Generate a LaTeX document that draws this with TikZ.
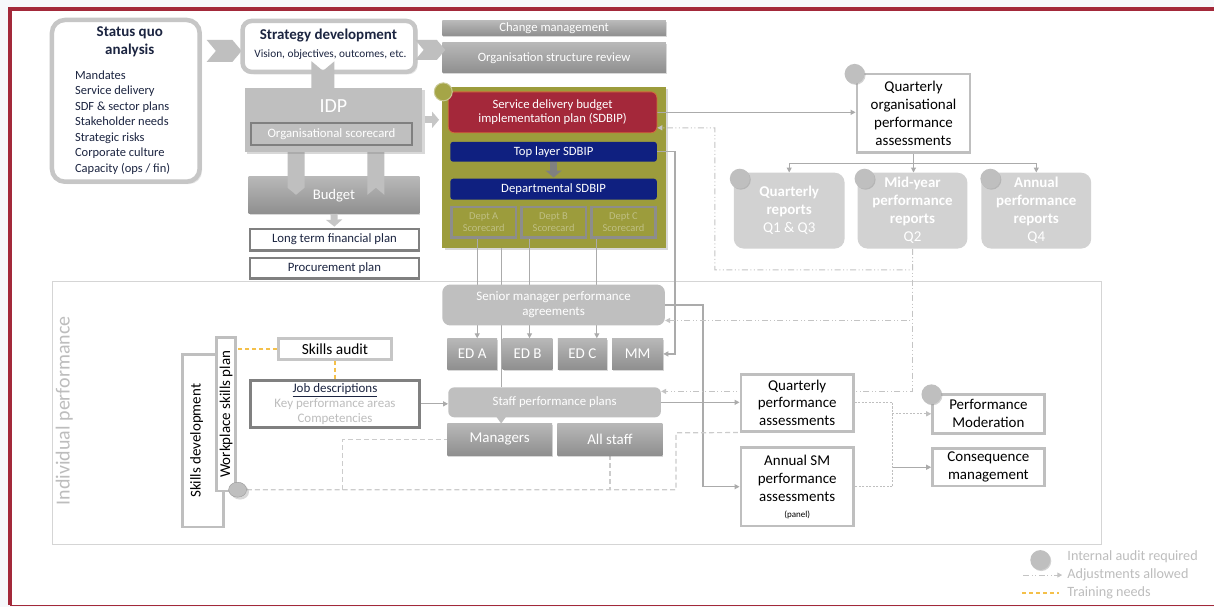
\documentclass[tikz,border=0pt]{standalone}
\usepackage{fontspec}
\setmainfont{Carlito}
\usepackage{tikz}
\usetikzlibrary{arrows.meta, positioning, shapes.geometric, shapes.symbols, calc, shadows}

\definecolor{framered}{HTML}{A3293A}
\definecolor{pagebg}{HTML}{F6F8FB}
\definecolor{olivebg}{HTML}{9C9C3C}
\definecolor{olivedot}{HTML}{A5A547}
\definecolor{planred}{HTML}{A4283A}
\definecolor{planedge}{HTML}{D06A3A}
\definecolor{navyblue}{HTML}{0F2080}
\definecolor{navytext}{HTML}{1C2541}
\definecolor{depttext}{HTML}{BFBF84}
\definecolor{lightgrey}{HTML}{BFBFBF}
\definecolor{softgrey}{HTML}{C6C6C6}
\definecolor{darkgrey}{HTML}{808080}
\definecolor{linegrey}{HTML}{ABABAB}
\definecolor{adjgrey}{HTML}{C4C4C4}
\definecolor{sklgrey}{HTML}{CCCCCC}
\definecolor{panelgrey}{HTML}{D5D5D5}
\definecolor{paletext}{HTML}{BDBDBD}
\definecolor{reportgrey}{HTML}{D2D2D2}
\definecolor{shadetop}{HTML}{B8B8B8}
\definecolor{shadebot}{HTML}{8F8F8F}
\definecolor{dotedge}{HTML}{999999}
\definecolor{trainyellow}{HTML}{F4C04A}

\pgfdeclarelayer{back}
\pgfsetlayers{back,main}

\begin{document}
\begin{tikzpicture}[x=1pt, y=-1pt,
    every node/.style={inner sep=0pt, align=center},
    >={Triangle[length=5pt,width=5pt]},
    wh/.style 2 args={minimum width=#1, minimum height=#2},
    fs/.style 2 args={font=\fontsize{#1}{#2}\selectfont},
    roundwhite/.style={fill=white, draw=softgrey, line width=4.5pt, rounded corners=13pt, drop shadow={opacity=0.2}},
    greyblock/.style={fill=lightgrey, text=white},
    shadeblock/.style={top color=shadetop, bottom color=shadebot, text=white, drop shadow={opacity=0.3, shadow xshift=1pt, shadow yshift=-1.5pt}},
    whitebox/.style={fill=white, draw=lightgrey, line width=2.5pt},
    darkbox/.style={fill=white, draw=darkgrey, line width=2.5pt},
    deptcard/.style={fill=olivebg, draw=darkgrey!90, line width=2.5pt, wh={64.5}{30.5}, fs={10.5}{12.5}, text=depttext},
    reportbox/.style={fill=reportgrey, rounded corners=10pt, text=white, font=\fontsize{15}{18}\selectfont\bfseries},
    auditdot/.style={circle, fill=lightgrey, minimum size=20, drop shadow={opacity=0.35, shadow xshift=1pt, shadow yshift=-1pt}},
    chev/.style={shape=signal, fill=lightgrey, signal pointer angle=100},
    blockarrow/.style={draw=softgrey, line width=7pt, -{Triangle[length=7pt,width=16pt]}},
    link/.style={draw=linegrey, line width=1.3pt, ->},
    thinlink/.style={draw=linegrey, line width=1pt, ->},
    plain/.style={draw=linegrey, line width=1.3pt},
    adj/.style={draw=adjgrey, line width=1pt, dash pattern=on 6pt off 2.5pt on 1pt off 2.5pt on 1pt off 2.5pt, ->},
    fdash/.style={draw=lightgrey, line width=1pt, dash pattern=on 2pt off 1.5pt},
    skl/.style={draw=sklgrey, line width=1.2pt, dash pattern=on 5pt off 3pt},
    train/.style={draw=trainyellow, line width=1.2pt, dash pattern=on 4pt off 3pt}
  ]

  % status quo and strategy
  \node[roundwhite, wh={148}{162}] (sqa) at (126,101) {};
  \node[font=\fontsize{15}{18}\selectfont\bfseries, text=navytext] (sqaT) at (130,42) {Status quo\\analysis};
  \node[fs={12.5}{15.5}, text=navytext, align=left, anchor=north west] (sqaL) at (75,70.5)
    {Mandates\\Service delivery\\SDF \& sector plans\\Stakeholder needs\\Strategic risks\\Corporate culture\\Capacity (ops / fin)};
  \node[chev, signal from=west, signal to=east, wh={35}{22}] (chevA) at (224.5,51) {};
  \node[roundwhite, rounded corners=9pt, wh={173}{51}] (strat) at (329.5,46.5) {};
  \node[font=\fontsize{15}{18}\selectfont\bfseries, text=navytext] (stratT) at (329,36) {Strategy development};
  \node[fs={11.3}{13}, text=navytext] (stratS) at (331,55) {Vision, objectives, outcomes, etc.};
  \node[chev, signal from=north, signal to=south, wh={23}{22}] (chevC) at (323.5,82) {};

  % change management
  \node[shadeblock, wh={224}{15}, fs={12.7}{14}] (chgm) at (555,28.5) {Change management};
  \node[shadeblock, wh={224}{30}, fs={12.7}{15}] (orgrev) at (555,58) {Organisation structure review};
  \node[chev, signal from=west, signal to=east, wh={30}{20}] (chevB) at (431,50) {};

  % IDP and budget
  \node[shadeblock, wh={171}{37}, fs={14.7}{16}] (budget) at (334.5,195.5) {Budget};
  \node[chev, signal from=north, signal to=south, wh={17}{38}] (chevD) at (296.5,169) {};
  \node[chev, signal from=south, signal to=north, wh={17}{38}] (chevE) at (376.5,169) {};
  \node[greyblock, wh={178}{64}, drop shadow={opacity=0.3}] (idp) at (334,120) {};
  \node[fs={20}{24}, text=white] (idpT) at (334,106) {IDP};
  \node[greyblock, draw=darkgrey, line width=2pt, wh={162}{22}, fs={12.8}{14}] (orgsc) at (332,134) {Organisational scorecard};
  \node[darkbox, wh={169.5}{21.5}, fs={12.8}{14}, text=navytext] (ltfp) at (335,240) {Long term financial plan};
  \node[darkbox, wh={169.5}{20.5}, fs={12.8}{14}, text=navytext] (proc) at (335,268.5) {Procurement plan};

  % SDBIP
  \node[fill=planred, draw=planedge, line width=0.8pt, rounded corners=6pt, wh={209}{41}, fs={12.7}{14.5}, text=white] (sdbip) at (553.5,112.5)
    {Service delivery budget\\implementation plan (SDBIP)};
  \node[circle, fill=olivedot, draw=olivebg!55!white, line width=1pt, minimum size=18] (sdbipdot) at (444,92) {};
  \node[fill=navyblue, rounded corners=3pt, wh={207}{20}, fs={12.7}{14}, text=white] (toplayer) at (554.5,152) {Top layer SDBIP};
  \node[fill=navyblue, rounded corners=3pt, wh={207}{21}, fs={12.7}{14}, text=white] (dept) at (554.5,189.5) {Departmental SDBIP};
  \node[deptcard] (deptA) at (484.5,222.5) {Dept A\\Scorecard};
  \node[deptcard, right=3pt of deptA] (deptB) {Dept B\\Scorecard};
  \node[deptcard, right=3pt of deptB] (deptC) {Dept C\\Scorecard};

  % organisational assessment and reports
  \node[whitebox, wh={113.5}{78.5}, fs={15}{18}] (qopa) at (915,113.5) {Quarterly\\organisational\\performance\\assessments};
  \node[auditdot] (qopadot) at (856,74) {};
  \node[reportbox, wh={111}{76}] (qrep) at (790.5,211) {Quarterly\\reports\\\mdseries Q1 \& Q3};
  \node[reportbox, wh={110}{76}] (mrep) at (914,211) {Mid-year\\performance\\reports\\\mdseries Q2};
  \node[reportbox, wh={110}{76}] (arep) at (1038,211) {Annual\\performance\\reports\\\mdseries Q4};
  \node[auditdot] (qrepdot) at (741,179) {};
  \node[auditdot] (mrepdot) at (866,179) {};
  \node[auditdot] (arepdot) at (992,179) {};

  % individual performance
  \node[rotate=90, fs={20}{24}, text=paletext] (indivT) at (64.5,411.5) {Individual performance};
  \node[greyblock, rounded corners=8pt, wh={223}{41}, fs={13}{15}] (smpa) at (554.5,305.5) {Senior manager performance\\agreements};
  \node[shadeblock, wh={50}{31}, fs={15}{18}] (edA) at (473,354.5) {ED A};
  \node[shadeblock, wh={50}{31}, fs={15}{18}, right=5pt of edA] (edB) {ED B};
  \node[shadeblock, wh={49}{31}, fs={15}{18}, right=5pt of edB] (edC) {ED C};
  \node[shadeblock, wh={51}{31}, fs={15}{18}, right=5pt of edC] (mm) {MM};
  \node[greyblock, rounded corners=6pt, wh={213}{30}, fs={12.8}{15}] (spp) at (555.5,403) {Staff performance plans};
  \coordinate (vx) at (502,0);
  \fill[lightgrey] (spp.south -| vx) ++(-5,-1) -- ++(10,0) -- ++(-5,7) -- cycle;
  \node[shadeblock, wh={105}{32}, fs={15}{18}] (mgr) at (500.5,440) {Managers};
  \node[shadeblock, wh={105}{32}, fs={15}{18}, right=5pt of mgr] (alls) {All staff};
  \node[whitebox, wh={113}{57}, fs={15}{18}] (qpa) at (798.5,403.5) {Quarterly\\performance\\assessments};
  \node[whitebox, wh={113}{79}, fs={15}{18}] (asm) at (798.5,487.5)
    {Annual SM\\performance\\assessments\\[-2pt]{\fontsize{9}{11}\selectfont (panel)}};
  \node[whitebox, wh={112}{39}, fs={15}{18}] (pmod) at (990,414.5) {Performance\\Moderation};
  \node[auditdot] (pmoddot) at (933,395) {};
  \node[whitebox, wh={112}{38}, fs={15}{18}] (cmgt) at (990,468) {Consequence\\management};

  % skills
  \node[whitebox, draw=softgrey, wh={113}{21}, fs={15.4}{17}] (skaud) at (335.5,349.5) {Skills audit};
  \node[darkbox, wh={169}{47}, fs={13}{15}] (jobd) at (335.5,404.5)
    {\textcolor{navytext}{\underline{Job descriptions}}\\\textcolor{paletext}{Key performance areas}\\\textcolor{paletext}{Competencies}};
  \node[whitebox, wh={41}{173}] (skdev) at (203.5,441.5) {};
  \node[rotate=90, fs={15}{18}] (skdevT) at (197,441.5) {Skills development};
  \node[whitebox, rotate=90, wh={154}{19}, fs={15}{18}] (wsp) at (226.5,415) {Workplace skills plan};
  \node[ellipse, fill=lightgrey, draw=dotedge, wh={18}{15}, drop shadow={opacity=0.3}] (wspdot) at (238,490.5) {};

  % legend
  \node[auditdot] (lgdot) at (1042,561) {};
  \node[anchor=west, fs={14.2}{16}, text=paletext] (lgA) at (1069,558) {Internal audit required};
  \node[anchor=west, fs={14.2}{16}, text=paletext] (lgB) at (1069,576) {Adjustments allowed};
  \node[anchor=west, fs={14.2}{16}, text=paletext] (lgC) at (1069,594) {Training needs};

  \begin{pgfonlayer}{back}
    \fill[pagebg] (0,0) rectangle (1216,608);
    \fill[white] (10,9) rectangle (1216,606);
    \draw[framered, line width=4pt] (10,606) -- (10,9) -- (1216,9);
    \draw[framered, line width=1pt] (10,606) -- (1216,606);
    \node[fill=olivebg, wh={224}{161}, drop shadow={opacity=0.3}] (sdbipbg) at (555,167.5) {};
    \node[draw=panelgrey, line width=1pt, wh={1050}{263}] (indiv) at (578,413.5) {};

    % connectors
    \draw[link] (sdbip.east) -- (sdbip.east -| qopa.west);
    \draw[link] (toplayer.east) -- ++(18,0) |- (mm.east);
    \draw[link] ([xshift=5pt]edA.north |- deptA.south) -- ([xshift=5pt]edA.north);
    \draw[link] ([xshift=2pt]edB.north |- deptB.south) -- ([xshift=2pt]edB.north);
    \draw[link] ([xshift=14.5pt]edC.north |- deptC.south) -- ([xshift=14.5pt]edC.north);
    \draw[plain] (sdbipbg.south -| vx) -- (spp.north -| vx);
    \draw[link] (smpa.east) -- ++(38,0) |- (asm.west);
    \draw[link] (spp.east) -- (spp.east -| qpa.west);
    \draw[link] (jobd.east) -- (jobd.east -| spp.west);
    \draw[thinlink] (qopa.south) -- ++(0,10) coordinate (tj) -| (qrep.north);
    \draw[thinlink] (tj) -| (arep.north);
    \draw[thinlink] (qopa.south) -- (qopa.south |- mrep.north);
    \draw[adj] (mrep.south) -- ++(0,21) -| ++(-198,-142) -- ([yshift=-15.5pt]sdbip.east);
    \draw[adj] (mrep.south) |- ([yshift=-15.5pt]smpa.east);
    \draw[adj] (mrep.south) |- ([yshift=11pt]spp.east);
    \draw[fdash] (qpa.east) -- ++(38,0) coordinate (fj) |- (asm.east);
    \draw[fdash, ->] (fj) |- (pmod.west);
    \draw[thinlink] (fj |- cmgt.west) -- (cmgt.west);
    \draw[skl] (wspdot.east) -| ++(430,-57) -- (qpa.south west);
    \draw[skl] ($(wspdot.east)+(96,0)$) |- (mgr.west);
    \draw[skl] (alls.south) -- (alls.south |- wspdot.east);
    \draw[train] (skaud.west) -- (skaud.west -| wsp.south);
    \draw[train] (skaud.south) -- (jobd.north);
    \draw[adj] ([xshift=-44pt]lgB.west) -- ([xshift=-5pt]lgB.west);
    \draw[train] ([xshift=-45pt]lgC.west) -- ([xshift=-8pt]lgC.west);
  \end{pgfonlayer}

  % block arrows
  \draw[blockarrow, shorten <=2pt, shorten >=3pt] (idp.east) -- (idp.east -| sdbipbg.west);
  \draw[blockarrow, draw=darkgrey, shorten >=1pt] (toplayer.south) -- (dept.north);
  \draw[blockarrow, shorten >=1pt] (budget.south) -- (ltfp.north);
\end{tikzpicture}
\end{document}
